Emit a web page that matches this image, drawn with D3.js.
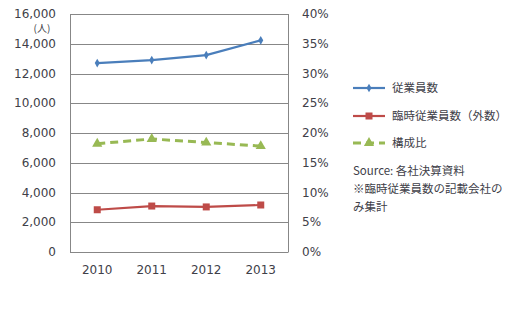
<!DOCTYPE html>
<html>
<head>
<meta charset="utf-8">
<script src="https://cdn.jsdelivr.net/npm/d3@7"></script>
<style>
  html, body { margin: 0; padding: 0; background: #fff; }
  svg text { font-family: "DejaVu Sans", Verdana, sans-serif; fill: #404048; }
  .jp { font-family: "Noto Sans CJK JP", sans-serif; }
</style>
</head>
<body>
<svg id="chart" width="521" height="329"></svg>
<script>
// Fiscal years
const years = ["2010", "2011", "2012", "2013"];
// Regular employees (persons)
const employees = [12700, 12900, 13240, 14230];
// Temporary employees, counted separately (persons)
const tempEmployees = [2840, 3090, 3030, 3160];
// Share of temporary employees (%)
const ratio = [18.2, 19.0, 18.4, 17.8];

const leftTicks = [0, 2000, 4000, 6000, 8000, 10000, 12000, 14000, 16000];
const rightTicks = [0, 5, 10, 15, 20, 25, 30, 35, 40];

const legendItems = ["従業員数", "臨時従業員数（外数）", "構成比"];
const notes = ["Source: 各社決算資料", "※臨時従業員数の記載会社の", "み集計"];

const svg = d3.select("#chart");
const m = { left: 70, right: 288, top: 14, bottom: 252 };

const x = d3.scaleBand().domain(years).range([m.left, m.right]);
const yL = d3.scaleLinear().domain([0, 16000]).range([m.bottom, m.top]);
const yR = d3.scaleLinear().domain([0, 40]).range([m.bottom, m.top]);
const cx = d => x(d) + x.bandwidth() / 2;

const gridColor = "#878787";

// gridlines
svg.append("g").selectAll("line").data(leftTicks).join("line")
  .attr("x1", m.left).attr("x2", m.right)
  .attr("y1", d => Math.round(yL(d)) + 0.5).attr("y2", d => Math.round(yL(d)) + 0.5)
  .attr("stroke", gridColor).attr("stroke-width", 1);

// axis lines
svg.append("line").attr("x1", m.left + 0.5).attr("x2", m.left + 0.5)
  .attr("y1", m.top).attr("y2", m.bottom + 0.5).attr("stroke", gridColor);
svg.append("line").attr("x1", m.right + 0.5).attr("x2", m.right + 0.5)
  .attr("y1", m.top).attr("y2", m.bottom + 0.5).attr("stroke", gridColor);

// left tick labels
svg.append("g").selectAll("text").data(leftTicks).join("text")
  .attr("x", 56).attr("y", d => yL(d)).attr("dy", "0.35em")
  .attr("text-anchor", "end").attr("font-size", 12)
  .text(d => d3.format(",")(d));

// unit label
svg.append("text").attr("class", "jp").attr("x", 42).attr("y", 32)
  .attr("text-anchor", "middle").attr("font-size", 10).text("(人)");

// right tick labels
svg.append("g").selectAll("text").data(rightTicks).join("text")
  .attr("x", 302).attr("y", d => yR(d)).attr("dy", "0.35em")
  .attr("text-anchor", "start").attr("font-size", 12)
  .text(d => d + "%");

// category labels
svg.append("g").selectAll("text").data(years).join("text")
  .attr("x", d => cx(d)).attr("y", 274)
  .attr("text-anchor", "middle").attr("font-size", 12)
  .text(d => d);

const blue = "#4a7ebb", red = "#be4b48", green = "#98b954";

const lineL = d3.line().x((d, i) => cx(years[i])).y(d => yL(d));
const lineR = d3.line().x((d, i) => cx(years[i])).y(d => yR(d));

// regular employees
svg.append("path").attr("d", lineL(employees)).attr("fill", "none")
  .attr("stroke", blue).attr("stroke-width", 2.2);
svg.append("g").selectAll("path").data(employees).join("path")
  .attr("d", d3.symbol(d3.symbolDiamond, 22))
  .attr("transform", (d, i) => `translate(${cx(years[i])},${yL(d)})`)
  .attr("fill", blue);

// temporary employees
svg.append("path").attr("d", lineL(tempEmployees)).attr("fill", "none")
  .attr("stroke", red).attr("stroke-width", 2.2);
svg.append("g").selectAll("rect").data(tempEmployees).join("rect")
  .attr("x", (d, i) => cx(years[i]) - 3.5).attr("y", d => yL(d) - 3.5)
  .attr("width", 7).attr("height", 7).attr("fill", red);

// ratio
svg.append("path").attr("d", lineR(ratio)).attr("fill", "none")
  .attr("stroke", green).attr("stroke-width", 3).attr("stroke-dasharray", "8,5");
svg.append("g").selectAll("path").data(ratio).join("path")
  .attr("d", d3.symbol(d3.symbolTriangle, 45))
  .attr("transform", (d, i) => `translate(${cx(years[i])},${yR(d)})`)
  .attr("fill", green);

// legend
const lg = svg.append("g");
const legendY = [88, 116, 143];
const colors = [blue, red, green];
legendItems.forEach((t, i) => {
  const y = legendY[i];
  const ln = lg.append("line").attr("x1", 353).attr("x2", 385).attr("y1", y).attr("y2", y)
    .attr("stroke", colors[i]).attr("stroke-width", i === 2 ? 3 : 2.2);
  if (i === 0) {
    lg.append("path").attr("d", d3.symbol(d3.symbolDiamond, 22))
      .attr("transform", `translate(369,${y})`).attr("fill", blue);
  } else if (i === 1) {
    lg.append("rect").attr("x", 365.5).attr("y", y - 3.5).attr("width", 7).attr("height", 7).attr("fill", red);
  } else {
    ln.attr("stroke-dasharray", "8,5");
    lg.append("path").attr("d", d3.symbol(d3.symbolTriangle, 45))
      .attr("transform", `translate(369,${y})`).attr("fill", green);
  }
  lg.append("text").attr("class", "jp").attr("x", 392).attr("y", y).attr("dy", "0.35em")
    .attr("font-size", 11.5).text(t);
});

// notes
const noteY = [171, 189, 207];
notes.forEach((t, i) => {
  svg.append("text").attr("class", "jp").attr("x", 353).attr("y", noteY[i]).attr("dy", "0.35em")
    .attr("font-size", 11.5).text(t);
});
</script>
</body>
</html>
